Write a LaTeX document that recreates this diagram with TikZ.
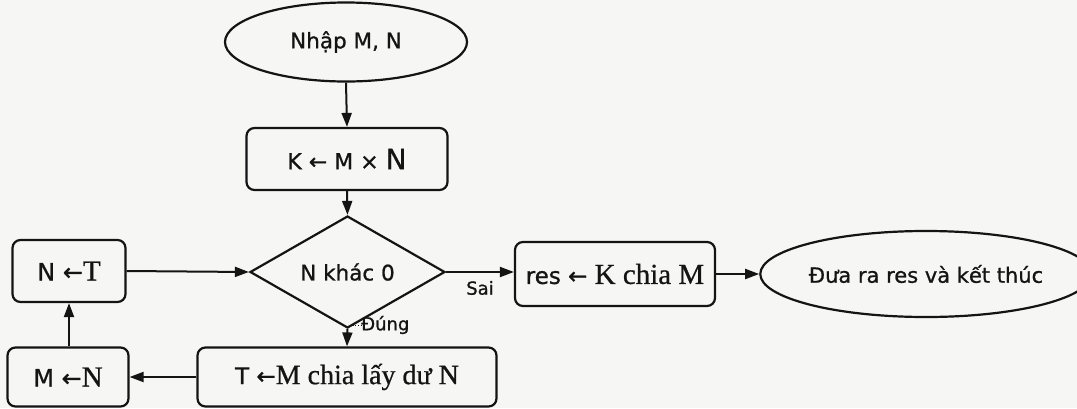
\documentclass[tikz,border=0pt]{standalone}
\usepackage{fontspec}
\setmainfont{Liberation Serif}
\newfontfamily\tah[FakeBold=0.9]{DejaVu Sans}
\newfontfamily\tnr[FakeBold=0.7]{Liberation Serif}
\usetikzlibrary{shapes.geometric,arrows.meta}
\definecolor{ink}{HTML}{141414}
\definecolor{paper}{HTML}{F6F6F4}
\tikzset{
  base/.style={draw=ink, line width=2.2pt, text=ink, inner sep=0pt},
  procbox/.style={base, rectangle, rounded corners=8pt},
  term/.style={base, ellipse},
  cond/.style={base, diamond},
  flow/.style={draw=ink, line width=2pt, -{Triangle[length=14pt,width=10pt]}},
  lbl/.style={text=ink, inner sep=0pt},
}
\begin{document}
\begin{tikzpicture}[x=1pt,y=-1pt]
\fill[paper] (0,0) rectangle (1077,408);
\useasboundingbox (0,0) rectangle (1077,408);

\node[term, minimum width=242pt, minimum height=79pt] (start) at (346,42)
  {\tah\fontsize{21.5}{24}\selectfont Nhập M, N};
\node[procbox, minimum width=201pt, minimum height=62pt] (k) at (347,159)
  {\tah\fontsize{22}{25}\selectfont K ← M × {\fontsize{28}{31}\selectfont N}};
\node[cond, minimum width=195pt, minimum height=83pt] (dec) at (347.5,272)
  {\tah\fontsize{21.5}{24}\selectfont N khác 0};
\node[procbox, minimum width=113pt, minimum height=62pt] (nt) at (69,271)
  {\tah\fontsize{24}{27}\selectfont N ←{\tnr\fontsize{29}{32}\selectfont T}};
\node[procbox, minimum width=121pt, minimum height=59pt] (mn) at (68,377)
  {\tah\fontsize{24}{27}\selectfont M ←{\tnr\fontsize{29}{32}\selectfont N}};
\node[procbox, minimum width=299pt, minimum height=59pt] (t) at (347,377)
  {\tah\fontsize{23}{26}\selectfont T ←{\tnr\fontsize{28}{31}\selectfont M chia lấy dư N}};
\node[procbox, minimum width=200pt, minimum height=64pt] (res) at (615,274)
  {\tah\fontsize{23}{26}\selectfont res ← {\tnr\fontsize{29}{32}\selectfont K chia M}};
\node[term, minimum width=289pt, minimum height=86pt] (end) at (926,274)
  {\tah\fontsize{21}{24}\selectfont Đưa ra res và kết thúc};

\draw[flow] (start.south) -- (k.north);
\draw[flow] (k.south) -- (dec.north);
\draw[flow] (dec.east) -- (dec.east -| res.west)
  node[lbl, pos=0.5, below=8pt] (sai) {\tah\fontsize{18}{21}\selectfont Sai};
\draw[flow] (res.east) -- (end.west);
\draw[flow] (dec.south) -- (t.north);
\node[lbl, anchor=west] (dung) at (361,325) {\tah\fontsize{18}{21}\selectfont Đúng};
\draw[ink, dotted, line width=0.7pt] (350,325) -- (dung.west);
\draw[flow] (t.west) -- (mn.east);
\draw[flow] (mn.north -| nt.south) -- (nt.south);
\draw[flow] (nt.east) -- (dec.west);
\end{tikzpicture}
\end{document}
